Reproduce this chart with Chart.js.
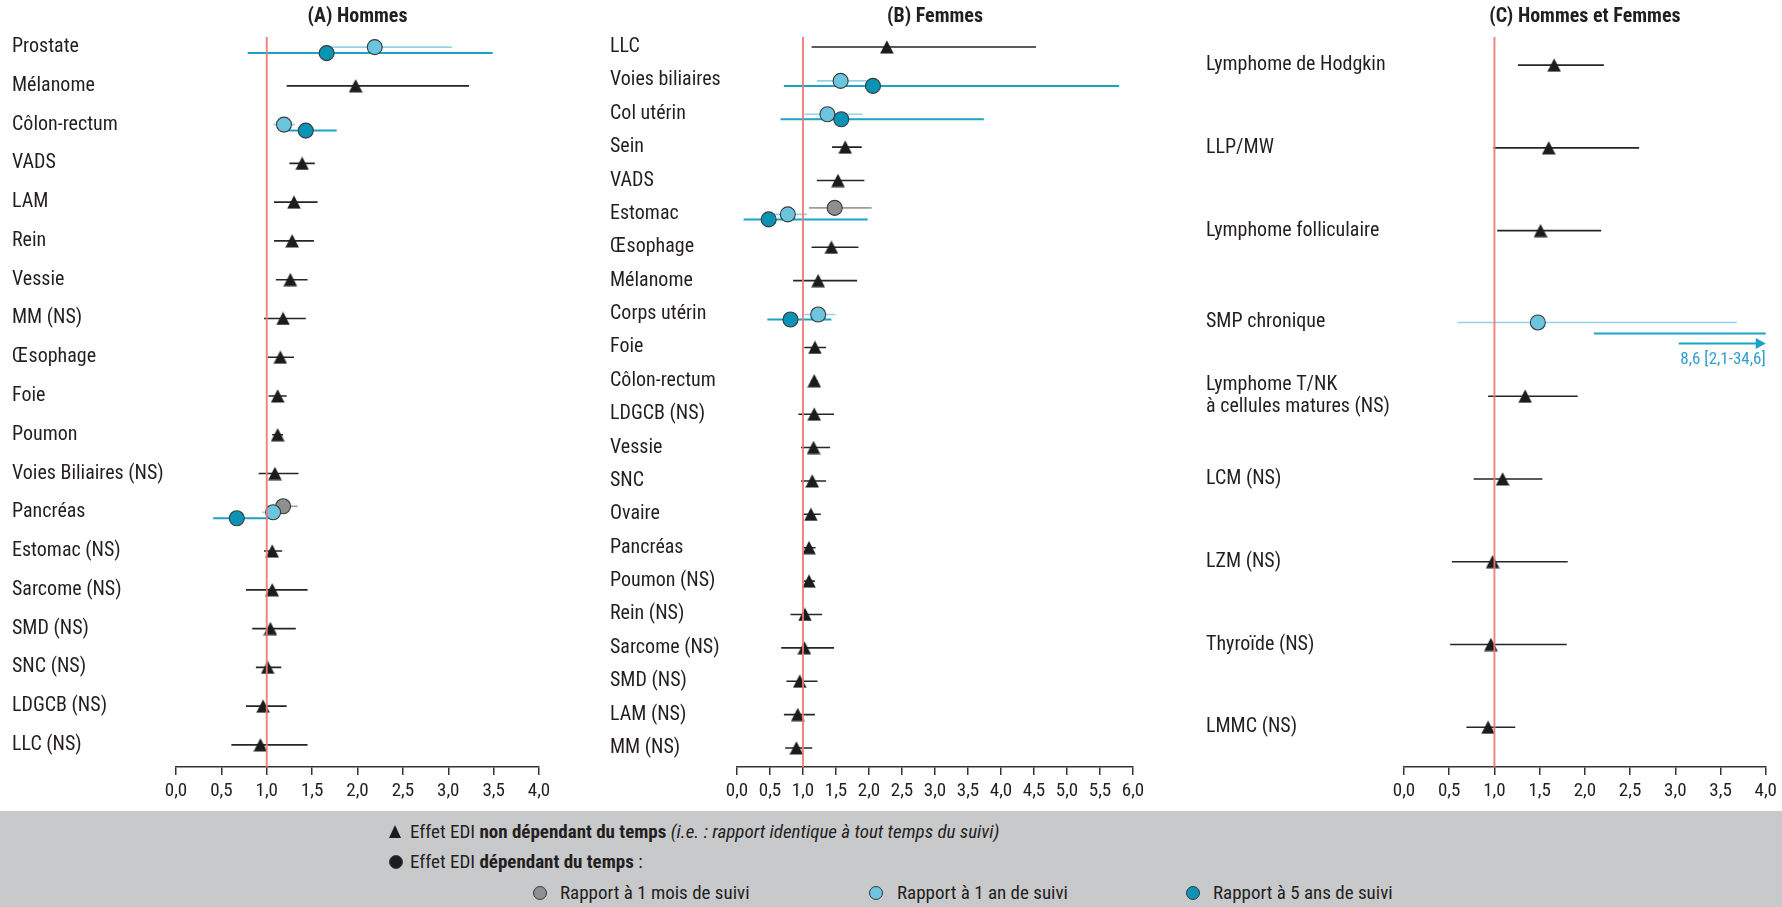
<!DOCTYPE html>
<html lang="fr">
<head>
<meta charset="utf-8">
<title>Effet EDI sur la survie nette</title>
<script src="https://cdn.jsdelivr.net/npm/chart.js@4.4.1/dist/chart.umd.min.js"></script>
<style>
  html, body { margin: 0; padding: 0; background: #ffffff; }
  #page {
    position: relative; width: 1782px; height: 907px; overflow: hidden; background: #ffffff;
    font-family: 'Liberation Sans Narrow', 'Arial Narrow', 'Roboto Condensed', 'DejaVu Sans Condensed', sans-serif;
    color: #231f20;
  }
  .panel { position: absolute; top: 0; height: 812px; }
  #legend { position: absolute; left: 0; top: 811px; width: 1782px; height: 96px; background: #c8c9cb; font-size: 19px; }
  .item { position: absolute; white-space: nowrap; line-height: 22px; height: 22px; }
  .mark { position: absolute; box-sizing: border-box; }
  .tri { width: 0; height: 0; border-left: 6.5px solid transparent; border-right: 6.5px solid transparent; border-bottom: 13px solid #1c1c1c; }
  .dot { width: 14px; height: 14px; border-radius: 50%; border: 1px solid #3a3a3a; }
</style>
</head>
<body>
<div id="page">
  <div class="panel" style="left:0;width:590px"><canvas id="chartA"></canvas></div>
  <div class="panel" style="left:590px;width:600px"><canvas id="chartB"></canvas></div>
  <div class="panel" style="left:1190px;width:592px"><canvas id="chartC"></canvas></div>
  <div id="legend"></div>
</div>
<script>
// ---------- (A) Hommes ----------
const hommesCats = ['Prostate', 'Mélanome', 'Côlon-rectum', 'VADS', 'LAM', 'Rein', 'Vessie', 'MM (NS)',
  'Œsophage', 'Foie', 'Poumon', 'Voies Biliaires (NS)', 'Pancréas', 'Estomac (NS)', 'Sarcome (NS)',
  'SMD (NS)', 'SNC (NS)', 'LDGCB (NS)', 'LLC (NS)'];
// effet non dépendant du temps : rapport, IC95 bas, IC95 haut (null = effet dépendant du temps)
const hommesRR   = [null, 1.98, null, 1.39, 1.30, 1.28, 1.26, 1.18, 1.15, 1.12, 1.12, 1.09, null, 1.06, 1.06, 1.04, 1.01, 0.96, 0.93];
const hommesBas  = [null, 1.22, null, 1.25, 1.08, 1.08, 1.10, 0.97, 1.01, 1.02, 1.06, 0.91, null, 0.97, 0.77, 0.84, 0.88, 0.77, 0.61];
const hommesHaut = [null, 3.23, null, 1.53, 1.56, 1.52, 1.45, 1.43, 1.30, 1.22, 1.18, 1.35, null, 1.17, 1.45, 1.32, 1.16, 1.22, 1.45];
// effet dépendant du temps : [localisation, rapport, IC95 bas, IC95 haut]
const hommes1Mois = [['Pancréas', 1.18, 1.00, 1.34]];
const hommes1An   = [['Prostate', 2.19, 1.70, 3.04], ['Côlon-rectum', 1.19, 1.07, 1.31], ['Pancréas', 1.07, 0.95, 1.20]];
const hommes5Ans  = [['Prostate', 1.66, 0.79, 3.49], ['Côlon-rectum', 1.43, 1.20, 1.77], ['Pancréas', 0.67, 0.41, 1.01]];

// ---------- (B) Femmes ----------
const femmesCats = ['LLC', 'Voies biliaires', 'Col utérin', 'Sein', 'VADS', 'Estomac', 'Œsophage', 'Mélanome',
  'Corps utérin', 'Foie', 'Côlon-rectum', 'LDGCB (NS)', 'Vessie', 'SNC', 'Ovaire', 'Pancréas', 'Poumon (NS)',
  'Rein (NS)', 'Sarcome (NS)', 'SMD (NS)', 'LAM (NS)', 'MM (NS)'];
const femmesRR   = [2.27, null, null, 1.64, 1.53, null, 1.43, 1.23, null, 1.18, 1.17, 1.17, 1.16, 1.14, 1.12, 1.09, 1.09, 1.03, 1.02, 0.95, 0.92, 0.90];
const femmesBas  = [1.13, null, null, 1.44, 1.21, null, 1.13, 0.85, null, 1.02, 1.12, 0.93, 0.97, 0.97, 1.00, 0.99, 1.01, 0.81, 0.67, 0.75, 0.71, 0.73];
const femmesHaut = [4.53, null, null, 1.89, 1.93, null, 1.84, 1.82, null, 1.35, 1.22, 1.47, 1.41, 1.35, 1.27, 1.19, 1.18, 1.29, 1.47, 1.22, 1.18, 1.14];
const femmes1Mois = [['Estomac', 1.48, 1.09, 2.04]];
const femmes1An   = [['Voies biliaires', 1.57, 1.21, 2.00], ['Col utérin', 1.37, 1.02, 1.90], ['Estomac', 0.77, 0.52, 1.06], ['Corps utérin', 1.23, 1.02, 1.49]];
const femmes5Ans  = [['Voies biliaires', 2.06, 0.71, 5.79], ['Col utérin', 1.58, 0.66, 3.74], ['Estomac', 0.48, 0.10, 1.98], ['Corps utérin', 0.81, 0.46, 1.43]];

// ---------- (C) Hommes et Femmes ----------
const mixteCats = ['Lymphome de Hodgkin', 'LLP/MW', 'Lymphome folliculaire', 'SMP chronique',
  ['Lymphome T/NK', 'à cellules matures (NS)'], 'LCM (NS)', 'LZM (NS)', 'Thyroïde (NS)', 'LMMC (NS)'];
const mixteRR   = [1.66, 1.60, 1.51, null, 1.34, 1.09, 0.98, 0.96, 0.93];
const mixteBas  = [1.26, 0.99, 1.03, null, 0.93, 0.77, 0.53, 0.51, 0.69];
const mixteHaut = [2.21, 2.60, 2.18, null, 1.92, 1.53, 1.81, 1.80, 1.23];
const mixte1Mois = [];
const mixte1An   = [['SMP chronique', 1.48, 0.59, 3.68]];
const mixte5Ans  = [['SMP chronique', 8.6, 2.1, 34.6]];

// ---------- styles ----------
const FONT = "'Liberation Sans Narrow', 'Arial Narrow', 'Roboto Condensed', 'DejaVu Sans Condensed', sans-serif";
const INK = '#231f20';
const C = {
  ref: 'rgba(238,120,120,0.9)',
  ci: '#262626',
  moisFill: '#8e8f91', moisLine: '#9c9c9c',
  anFill: '#6cc5de', anLine: '#94d3e6',
  ansFill: '#0a93b4', ansLine: '#1aa2c8',
  border: '#3a3a3a',
  note: '#2f9fcf'
};
const PANEL_H = 812, TOP = 37, XAXIS_H = 45;
const PLOT_H = PANEL_H - TOP - XAXIS_H;

function triangleMarker() {
  const c = document.createElement('canvas');
  c.width = 14; c.height = 14;
  const g = c.getContext('2d');
  g.fillStyle = '#1c1c1c';
  g.beginPath();
  g.moveTo(7, 0.3); g.lineTo(13.8, 13.6); g.lineTo(0.2, 13.6);
  g.closePath(); g.fill();
  return c;
}
const TRI = triangleMarker();

const fmt = v => String(v).replace('.', ',');
const catName = c => Array.isArray(c) ? c.join(' ') : c;

// title drawn centred above the plot area
const panelTitle = {
  id: 'panelTitle',
  afterDraw(chart, args, opts) {
    const { ctx, chartArea } = chart;
    ctx.save();
    ctx.font = `bold 20px ${FONT}`;
    ctx.fillStyle = INK;
    ctx.textAlign = 'center';
    ctx.textBaseline = 'middle';
    ctx.fillText(opts.text, (chartArea.left + chartArea.right) / 2, 17);
    ctx.restore();
  }
};

// arrow + value label for estimates beyond the x-axis range
const offScale = {
  id: 'offScale',
  afterDatasetsDraw(chart, args, opts) {
    const items = opts.items || [];
    if (!items.length) return;
    const { ctx, chartArea, scales: { x, y } } = chart;
    ctx.save();
    items.forEach(it => {
      if (it.est <= x.max) return;
      const yPx = y.getPixelForValue(it.row) + 10;
      const x1 = chartArea.right, x0 = x1 - 87;
      ctx.strokeStyle = C.ansLine; ctx.fillStyle = C.ansLine; ctx.lineWidth = 2;
      ctx.beginPath(); ctx.moveTo(x0, yPx); ctx.lineTo(x1 - 8, yPx); ctx.stroke();
      ctx.beginPath(); ctx.moveTo(x1, yPx); ctx.lineTo(x1 - 10, yPx - 5.5); ctx.lineTo(x1 - 10, yPx + 5.5); ctx.closePath(); ctx.fill();
      ctx.font = `17px ${FONT}`;
      ctx.fillStyle = C.note;
      ctx.textAlign = 'right'; ctx.textBaseline = 'middle';
      ctx.fillText(`${fmt(it.est)} [${fmt(it.lo)}-${fmt(it.hi)}]`, x1, yPx + 16);
    });
    ctx.restore();
  }
};

function buildPanel(id, p) {
  const unitPerPx = (p.yMax - p.yMin) / PLOT_H;
  const nudge = p.nudge || {};
  // row centre on the y scale, with an optional pixel nudge for a given row
  const rowY = i => i + (nudge[catName(p.cats[i])] || 0) * unitPerPx;
  const rowOf = name => p.cats.findIndex(c => catName(c) === name);

  const ciLine = (rows) => {
    const out = [];
    rows.forEach(r => { out.push({ x: r.lo, y: r.y }, { x: r.hi, y: r.y }, { x: null, y: null }); });
    return out;
  };
  const base = p.rr.map((v, i) => v == null ? null : { est: v, lo: p.bas[i], hi: p.haut[i], y: rowY(i) }).filter(Boolean);
  const td = (list, dy) => list.map(([n, est, lo, hi]) => ({ est, lo, hi, y: rowY(rowOf(n)) + dy * unitPerPx }));
  const mois = td(p.mois1, p.dy.mois), an = td(p.an1, p.dy.an), ans = td(p.ans5, p.dy.ans);

  const lineDs = (data, color, width, order) => ({
    data, showLine: true, spanGaps: false, borderColor: color, borderWidth: width,
    pointRadius: 0, pointHoverRadius: 0, order
  });
  const dotDs = (rows, fill, order) => ({
    data: rows.map(r => ({ x: r.est, y: r.y })), showLine: false,
    pointStyle: 'circle', pointRadius: 7.5, pointBorderWidth: 1.1,
    pointBackgroundColor: fill, pointBorderColor: C.border, order
  });

  const datasets = [
    lineDs(ciLine(base), C.ci, 1.6, 9),
    lineDs(ciLine(mois), C.moisLine, 1.6, 8),
    lineDs(ciLine(an), C.anLine, 1.6, 7),
    lineDs(ciLine(ans), C.ansLine, 2, 6),
    { data: base.map(r => ({ x: r.est, y: r.y })), showLine: false, pointStyle: TRI, order: 4 },
    dotDs(mois, C.moisFill, 3),
    dotDs(an, C.anFill, 2),
    dotDs(ans, C.ansFill, 1),
    lineDs([{ x: 1, y: p.yMin }, { x: 1, y: p.yMax }], C.ref, 2, 0)
  ];

  return new Chart(document.getElementById(id), {
    type: 'scatter',
    data: { datasets },
    plugins: [panelTitle, offScale],
    options: {
      responsive: true, maintainAspectRatio: false, animation: false, devicePixelRatio: 1,
      events: [],
      layout: { padding: { left: p.padLeft, right: p.padRight, top: TOP, bottom: 0 } },
      plugins: {
        legend: { display: false }, tooltip: { enabled: false },
        panelTitle: { text: p.title },
        offScale: { items: ans.filter(r => r.est > p.xMax).map(r => ({ ...r, row: r.y })) }
      },
      scales: {
        x: {
          type: 'linear', min: 0, max: p.xMax,
          border: { display: true, color: '#333333', width: 1.5 },
          grid: { drawOnChartArea: false, drawTicks: true, tickLength: 8, color: '#333333', lineWidth: 1.5 },
          ticks: {
            stepSize: 0.5, autoSkip: false, maxRotation: 0, padding: 5, color: INK,
            font: { family: FONT, size: 19 },
            callback: v => v.toFixed(1).replace('.', ',')
          },
          afterFit: s => { s.height = XAXIS_H; }
        },
        y: {
          type: 'linear', reverse: true, min: p.yMin, max: p.yMax,
          border: { display: false },
          grid: { display: false, drawTicks: false },
          afterBuildTicks: s => { s.ticks = p.cats.map((_, i) => ({ value: rowY(i), idx: i })); },
          ticks: {
            crossAlign: 'far', autoSkip: false, color: INK,
            font: { family: FONT, size: 20, lineHeight: 1.1 },
            callback: (v, i) => p.cats[i]
          },
          afterFit: s => { s.width = p.yWidth; }
        }
      }
    }
  });
}

buildPanel('chartA', {
  title: '(A) Hommes', cats: hommesCats, rr: hommesRR, bas: hommesBas, haut: hommesHaut,
  mois1: hommes1Mois, an1: hommes1An, ans5: hommes5Ans, xMax: 4, yMin: -0.26, yMax: 18.57,
  padLeft: 12, padRight: 51, yWidth: 164, dy: { mois: -6, an: 0, ans: 6 }
});
buildPanel('chartB', {
  title: '(B) Femmes', cats: femmesCats, rr: femmesRR, bas: femmesBas, haut: femmesHaut,
  mois1: femmes1Mois, an1: femmes1An, ans5: femmes5Ans, xMax: 6, yMin: -0.30, yMax: 21.57,
  padLeft: 20, padRight: 57, yWidth: 127, dy: { mois: -6, an: 0.5, ans: 5.5 }
});
buildPanel('chartC', {
  title: '(C) Hommes et Femmes', cats: mixteCats, rr: mixteRR, bas: mixteBas, haut: mixteHaut,
  mois1: mixte1Mois, an1: mixte1An, ans5: mixte5Ans, xMax: 4, yMin: -0.34, yMax: 8.48,
  padLeft: 16, padRight: 16, yWidth: 198, dy: { mois: -6, an: 0, ans: 11 },
  nudge: { 'SMP chronique': 9 }
});

// ---------- légende ----------
const legendItems = [
  { mark: 'tri', cx: 395, cy: 21, x: 410, html: 'Effet EDI <b>non dépendant du temps</b> <i>(i.e. : rapport identique à tout temps du suivi)</i>' },
  { mark: 'dot', fill: '#1c1c1c', cx: 396, cy: 51, x: 410, html: 'Effet EDI <b>dépendant du temps</b> :' },
  { mark: 'dot', fill: C.moisFill, cx: 540, cy: 82, x: 560, html: 'Rapport à 1 mois de suivi' },
  { mark: 'dot', fill: C.anFill, cx: 876, cy: 82, x: 897, html: 'Rapport à 1 an de suivi' },
  { mark: 'dot', fill: C.ansFill, cx: 1193, cy: 82, x: 1213, html: 'Rapport à 5 ans de suivi' }
];
const legend = document.getElementById('legend');
legendItems.forEach(it => {
  const m = document.createElement('span');
  m.className = 'mark ' + it.mark;
  if (it.mark === 'tri') { m.style.left = (it.cx - 6.5) + 'px'; m.style.top = (it.cy - 7) + 'px'; }
  else { m.style.left = (it.cx - 7) + 'px'; m.style.top = (it.cy - 7) + 'px'; m.style.background = it.fill; }
  legend.appendChild(m);
  const t = document.createElement('span');
  t.className = 'item';
  t.style.left = it.x + 'px'; t.style.top = (it.cy - 11) + 'px';
  t.innerHTML = it.html;
  legend.appendChild(t);
});
</script>
</body>
</html>
